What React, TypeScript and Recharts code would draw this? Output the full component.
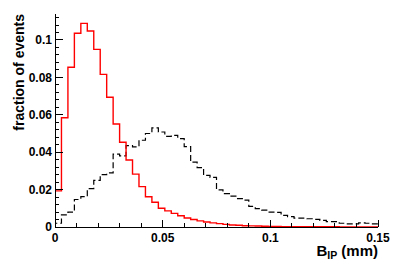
import React from 'react';
import { LineChart, Line, XAxis, YAxis, Label } from 'recharts';

// Bin layout: 50 bins from 0 to 0.15 mm
const X_MIN = 0;
const X_MAX = 0.15;
const BIN_WIDTH = 0.003;
const Y_MAX = 0.1139;

// Tick labels / positions
const X_MAJOR = [0, 0.05, 0.1, 0.15];
const X_MINOR_STEP = 0.01;
const Y_MAJOR = [0, 0.02, 0.04, 0.06, 0.08, 0.1];
const Y_MINOR_STEP = 0.004;

// Red solid histogram (per bin)
const redSeries = [
  0.0193, 0.0584, 0.0854, 0.1036, 0.1089, 0.1048, 0.0950, 0.0816, 0.0694, 0.0551,
  0.0453, 0.0358, 0.0283, 0.0216, 0.0162, 0.0132, 0.0100, 0.0086, 0.0073, 0.0060,
  0.0048, 0.0040, 0.0033, 0.0027, 0.0022, 0.0018, 0.0014, 0.0011, 0.0009, 0.0007,
  0.0006, 0.0005, 0.0004, 0.0003, 0.0003, 0.0002, 0.0002, 0.0002, 0.0001, 0.0001,
  0.0001, 0.0001, 0.0001, 0.0001, 0.0000, 0.0000, 0.0000, 0.0000, 0.0000, 0.0000,
];

// Black dashed histogram (per bin)
const blackSeries = [
  0.0020, 0.0065, 0.0080, 0.0147, 0.0162, 0.0205, 0.0249, 0.0280, 0.0289, 0.0390,
  0.0380, 0.0435, 0.0428, 0.0464, 0.0500, 0.0530, 0.0508, 0.0485, 0.0490, 0.0473,
  0.0430, 0.0347, 0.0318, 0.0276, 0.0265, 0.0198, 0.0178, 0.0165, 0.0152, 0.0144,
  0.0110, 0.0098, 0.0090, 0.0080, 0.0078, 0.0062, 0.0056, 0.0047, 0.0047, 0.0044,
  0.0041, 0.0035, 0.0029, 0.0029, 0.0020, 0.0017, 0.0017, 0.0022, 0.0020, 0.0017,
];

const rows = [
  { x: X_MIN, red: 0, black: 0 },
  ...redSeries.map((v, i) => ({ x: X_MIN + i * BIN_WIDTH, red: v, black: blackSeries[i] })),
  { x: X_MAX, red: redSeries[redSeries.length - 1], black: blackSeries[blackSeries.length - 1] },
];

const makeTicks = (max: number, step: number) => {
  const out: number[] = [];
  for (let i = 0; i * step <= max + 1e-9; i++) out.push(parseFloat((i * step).toFixed(5)));
  return out;
};
const X_TICKS = makeTicks(X_MAX, X_MINOR_STEP);
const Y_TICKS = makeTicks(Y_MAX, Y_MINOR_STEP);

const isMajor = (v: number, majors: number[]) => majors.some((m) => Math.abs(m - v) < 1e-7);
const fmt = (v: number) => String(parseFloat(v.toFixed(4)));

const FONT = '"Liberation Sans", Arial, Helvetica, sans-serif';
const TM = 4;

const BottomTick = (props: any) => {
  const { x, y, payload } = props;
  const v = payload.value;
  const major = isMajor(v, X_MAJOR);
  const ay = y - TM;
  return (
    <g>
      <line x1={x} x2={x} y1={ay} y2={ay - (major ? 7 : 4)} stroke="#000" shapeRendering="crispEdges" />
      {major && (
        <text x={x} y={ay + 14.5} textAnchor="middle" fontFamily={FONT} fontWeight="bold" fontSize={12} fill="#000">
          {fmt(v)}
        </text>
      )}
    </g>
  );
};

const TopTick = (props: any) => {
  const { x, y, payload } = props;
  const major = isMajor(payload.value, X_MAJOR);
  const ay = y + TM;
  return <line x1={x} x2={x} y1={ay} y2={ay + (major ? 7 : 4)} stroke="#000" shapeRendering="crispEdges" />;
};

const LeftTick = (props: any) => {
  const { x, y, payload } = props;
  const v = payload.value;
  const major = isMajor(v, Y_MAJOR);
  const ax = x + TM;
  return (
    <g>
      <line x1={ax} x2={ax + (major ? 8 : 4)} y1={y} y2={y} stroke="#000" shapeRendering="crispEdges" />
      {major && (
        <text x={ax - 3} y={y + 4.3} textAnchor="end" fontFamily={FONT} fontWeight="bold" fontSize={12} fill="#000">
          {fmt(v)}
        </text>
      )}
    </g>
  );
};

const RightTick = (props: any) => {
  const { x, y, payload } = props;
  const major = isMajor(payload.value, Y_MAJOR);
  const ax = x - TM;
  return <line x1={ax} x2={ax - (major ? 8 : 4)} y1={y} y2={y} stroke="#000" shapeRendering="crispEdges" />;
};

const YTitle = (props: any) => {
  const vb = props.viewBox || { x: 0, y: 14 };
  const cx = 24;
  const cy = vb.y;
  return (
    <text
      x={cx}
      y={cy}
      transform={`rotate(-90 ${cx} ${cy})`}
      textAnchor="end"
      fontFamily={FONT}
      fontWeight="bold"
      fontSize={14}
      fill="#000"
    >
      fraction of events
    </text>
  );
};

const XTitle = (props: any) => {
  const vb = props.viewBox || { x: 55, y: 227, width: 323 };
  const ex = vb.x + vb.width;
  return (
    <text x={ex} y={256} textAnchor="end" fontFamily={FONT} fontWeight="bold" fontSize={15} fill="#000">
      B
      <tspan fontSize={10.5} dy={3}>IP</tspan>
      <tspan dy={-3}> (mm)</tspan>
    </text>
  );
};

export default function App() {
  return (
    <div style={{ position: 'absolute', left: 0, top: 0, width: 399, height: 270, background: '#fff' }}>
      <LineChart
        width={399}
        height={270}
        data={rows}
        margin={{ top: 14, right: 21, bottom: 0, left: 0 }}
      >
        <XAxis
          xAxisId="b"
          dataKey="x"
          type="number"
          domain={[X_MIN, X_MAX]}
          allowDataOverflow
          ticks={X_TICKS}
          interval={0}
          height={43}
          tickSize={0}
          tickMargin={TM}
          tickLine={false}
          tick={<BottomTick />}
          axisLine={{ stroke: '#000', strokeWidth: 1, shapeRendering: 'crispEdges' }}
        >
          <Label content={<XTitle />} />
        </XAxis>
        <XAxis
          xAxisId="t"
          orientation="top"
          dataKey="x"
          type="number"
          domain={[X_MIN, X_MAX]}
          allowDataOverflow
          ticks={X_TICKS}
          interval={0}
          height={0}
          tickSize={0}
          tickMargin={TM}
          tickLine={false}
          tick={<TopTick />}
          axisLine={{ stroke: '#000', strokeWidth: 1, shapeRendering: 'crispEdges' }}
        />
        <YAxis
          yAxisId="l"
          type="number"
          domain={[0, Y_MAX]}
          allowDataOverflow
          ticks={Y_TICKS}
          interval={0}
          width={55}
          tickSize={0}
          tickMargin={TM}
          tickLine={false}
          tick={<LeftTick />}
          axisLine={{ stroke: '#000', strokeWidth: 1, shapeRendering: 'crispEdges' }}
        >
          <Label content={<YTitle />} />
        </YAxis>
        <YAxis
          yAxisId="r"
          orientation="right"
          type="number"
          domain={[0, Y_MAX]}
          allowDataOverflow
          ticks={Y_TICKS}
          interval={0}
          width={0}
          tickSize={0}
          tickMargin={TM}
          tickLine={false}
          tick={<RightTick />}
          axisLine={{ stroke: '#000', strokeWidth: 1, shapeRendering: 'crispEdges' }}
        />
        <Line
          xAxisId="b"
          yAxisId="l"
          type="stepAfter"
          dataKey="black"
          stroke="#000"
          strokeWidth={1.2}
          strokeDasharray="6 3"
          dot={false}
          activeDot={false}
          isAnimationActive={false}
        />
        <Line
          xAxisId="b"
          yAxisId="l"
          type="stepAfter"
          dataKey="red"
          stroke="#ff0000"
          strokeWidth={1.4}
          dot={false}
          activeDot={false}
          isAnimationActive={false}
        />
      </LineChart>
    </div>
  );
}
